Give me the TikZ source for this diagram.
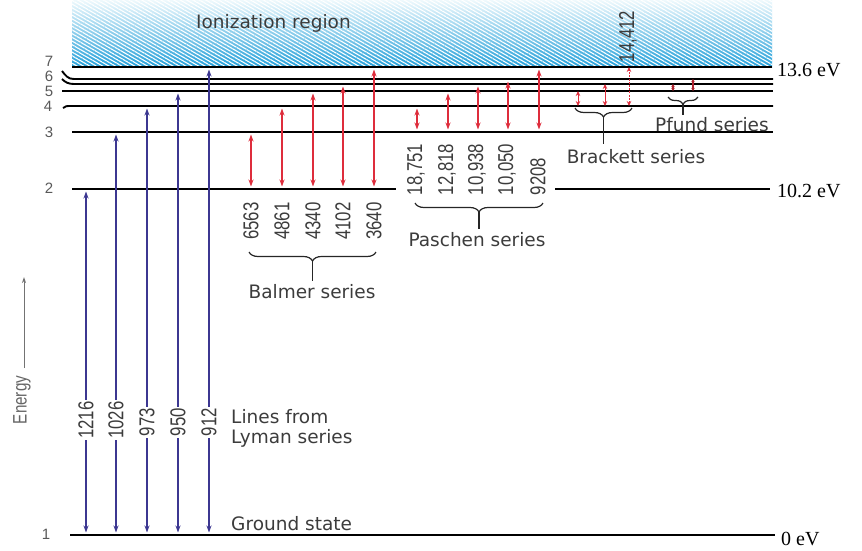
\documentclass[tikz,border=0pt]{standalone}
\usepackage{fontspec}
\setmainfont{DejaVu Sans}
\newfontfamily\numfont[FakeStretch=0.78]{Liberation Sans}
\newfontfamily\evfont{Liberation Serif}
\newfontfamily\levfont{Liberation Sans}
\usetikzlibrary{arrows.meta,decorations.pathreplacing,patterns.meta,calc}
\definecolor{lyman}{RGB}{60,55,145}
\definecolor{redl}{RGB}{222,45,60}
\definecolor{txt}{RGB}{60,60,60}
\definecolor{ionbot}{RGB}{35,160,218}
\definecolor{iontop}{RGB}{238,249,253}
\tikzset{
  level/.style={line width=1.9pt, black},
  lyarrow/.style={lyman, line width=1.1pt, {Stealth[length=7pt,width=5pt]}-{Stealth[length=7pt,width=5pt]}, shorten <=2.5pt, shorten >=2.5pt},
  rdarrow/.style={redl, line width=1.1pt, {Stealth[length=7pt,width=5pt]}-{Stealth[length=7pt,width=5pt]}, shorten <=2.5pt, shorten >=2.5pt},
  smarrow/.style={redl, line width=1pt, {Stealth[length=5pt,width=4.5pt]}-{Stealth[length=5pt,width=4.5pt]}},
  tinyarrow/.style={redl!80!black, line width=1.2pt, {Stealth[length=3pt,width=3.5pt]}-{Stealth[length=3pt,width=3.5pt]}},
  numlab/.style={font=\numfont\fontsize{21.5}{21.5}\selectfont, text=txt, inner sep=1.5pt, rotate=90},
  levlab/.style={font=\levfont\fontsize{15}{15}\selectfont, text=black!65, inner sep=0pt, text height=10.5pt, text depth=0pt},
  evlab/.style={font=\evfont\fontsize{20}{20}\selectfont, text=black, inner sep=0pt, anchor=west},
  serlab/.style={font=\fontsize{18.5}{20}\selectfont, text=txt, inner sep=0pt},
  brc/.style={decorate, decoration={brace, amplitude=9pt, mirror}, line width=1.2pt, black!85},
  stem/.style={line width=1.2pt, black!85}
}
\begin{document}
\begin{tikzpicture}[x=1pt,y=-1pt]
\useasboundingbox (0,0) rectangle (862,550);
% ionization region
\shade[top color=iontop, bottom color=ionbot] (72,0) rectangle (772,67);
\fill[pattern={Lines[angle=-30,distance=3.2pt,line width=1.1pt]}, pattern color=white] (72,0) rectangle (772,67);
\node[serlab, anchor=west] (ion) at (196,23) {Ionization region};
% level coordinates
\coordinate (Lion) at (0,67);
\coordinate (L7) at (0,79);
\coordinate (L6) at (0,84);
\coordinate (L5) at (0,91);
\coordinate (L4) at (0,106);
\coordinate (L3) at (0,132);
\coordinate (L2) at (0,189);
\coordinate (L1) at (0,535);
% level lines
\draw[level, line width=2pt] (72,67) -- (772,67);
\draw[level] (62,71) .. controls (66,76) and (68,79) .. (74,79) -- (773,79);
\draw[level] (62,79) .. controls (65,82) and (68,84) .. (74,84) -- (773,84);
\draw[level] (62,91) -- (773,91);
\draw[level] (63,108) .. controls (65,106) and (67,106) .. (71,106) -- (773,106);
\draw[level] (72,132) -- (773,132);
\draw[level] (72,189) -- (396,189);
\draw[level] (555,189) -- (770,189);
\draw[level] (70,535) -- (775,535);
% level numbers
\node[levlab] (n7) at (49,61) {7};
\node[levlab] (n6) at (49,76) {6};
\node[levlab] (n5) at (49,91) {5};
\node[levlab] (n4) at (48,106) {4};
\node[levlab] (n3) at (49,132) {3};
\node[levlab] (n2) at (49,188) {2};
\node[levlab] (n1) at (46,534) {1};
% energies
\node[evlab] (e136) at (777,70) {13.6 eV};
\node[evlab] (e102) at (777,191) {10.2 eV};
\node[evlab] (e0) at (781,539) {0 eV};
% Energy axis
\node[font=\numfont\fontsize{19.5}{19.5}\selectfont, text=black!60, rotate=90, inner sep=0pt] (energy) at (22,400) {Energy};
\coordinate (ebot) at (24,368);
\coordinate (etop) at (24,277);
\draw[black!55, line width=0.9pt, -{Stealth[length=6pt,width=4pt]}] (ebot) -- (etop);
% Lyman
\draw[lyarrow] (86,0 |- L1) -- (86,0 |- L2);
\draw[lyarrow] (116,0 |- L1) -- (116,0 |- L3);
\draw[lyarrow] (147,0 |- L1) -- (147,0 |- L4);
\draw[lyarrow] (178,0 |- L1) -- (178,0 |- L5);
\draw[lyarrow] (209,0 |- L1) -- (209,0 |- Lion);
\node[numlab, fill=white] (w1216) at (86,420) {1216};
\node[numlab, fill=white] (w1026) at (116,420) {1026};
\node[numlab, fill=white] (w973) at (147,422) {973};
\node[numlab, fill=white] (w950) at (178,422) {950};
\node[numlab, fill=white] (w912) at (209,422) {912};
\node[serlab, anchor=west, align=left] (lyman) at (231,428) {Lines from\\Lyman series};
\node[serlab, anchor=west] (ground) at (231,524) {Ground state};
% Balmer
\draw[rdarrow] (251,0 |- L2) -- (251,0 |- L3);
\draw[rdarrow] (282,0 |- L2) -- (282,0 |- L4);
\draw[rdarrow] (313,0 |- L2) -- (313,0 |- L5);
\draw[rdarrow] (343,0 |- L2) -- (343,0 |- L6);
\draw[rdarrow] (374,0 |- L2) -- (374,0 |- Lion);
\node[numlab] (w6563) at (251,221) {6563};
\node[numlab] (w4861) at (282,221) {4861};
\node[numlab] (w4340) at (313,221) {4340};
\node[numlab] (w4102) at (343,221) {4102};
\node[numlab] (w3640) at (374,221) {3640};
\draw[brc] (249,252) -- (376,252);
\draw[stem] (312.5,261) -- (312.5,281);
\node[serlab] (balmer) at (312,292) {Balmer series};
% Paschen
\draw[rdarrow] (417,0 |- L3) -- (417,0 |- L4);
\draw[rdarrow] (448,0 |- L3) -- (448,0 |- L5);
\draw[rdarrow] (478,0 |- L3) -- (478,0 |- L6);
\draw[rdarrow] (508,0 |- L3) -- (508,0 |- L7);
\draw[rdarrow] (539,0 |- L3) -- (539,0 |- Lion);
\node[numlab, anchor=west] (w18751) at (416,197) {18,751};
\node[numlab, anchor=west] (w12818) at (447,197) {12,818};
\node[numlab, anchor=west] (w10938) at (477,197) {10,938};
\node[numlab, anchor=west] (w10050) at (507,197) {10,050};
\node[numlab, anchor=west] (w9208) at (538,197) {9208};
\draw[brc] (415,203) -- (543,203);
\draw[stem] (479,212) -- (479,229);
\node[serlab] (paschen) at (477,240) {Paschen series};
% Brackett
\draw[smarrow] (578,0 |- L4) -- (578,0 |- L5);
\draw[smarrow] (605,0 |- L4) -- (605,0 |- L6);
\draw[smarrow, dash pattern=on 2pt off 1.2pt] (629,0 |- L4) -- (629,0 |- Lion);
\node[numlab, anchor=west] (w14412) at (628,64) {14,412};
\draw[brc] (575,108) -- (632,108);
\draw[stem] (603.5,117) -- (603.5,144);
\node[serlab] (brackett) at (636,157) {Brackett series};
% Pfund
\draw[tinyarrow] (673,0 |- L5) -- (673,0 |- L6);
\draw[tinyarrow] (693,0 |- L5) -- (693,0 |- L7);
\draw[brc, decoration={brace, amplitude=7pt, mirror}] (668,97) -- (698,97);
\draw[stem] (683,104) -- (683,115);
\node[serlab] (pfund) at (712,125) {Pfund series};
\end{tikzpicture}
\end{document}
